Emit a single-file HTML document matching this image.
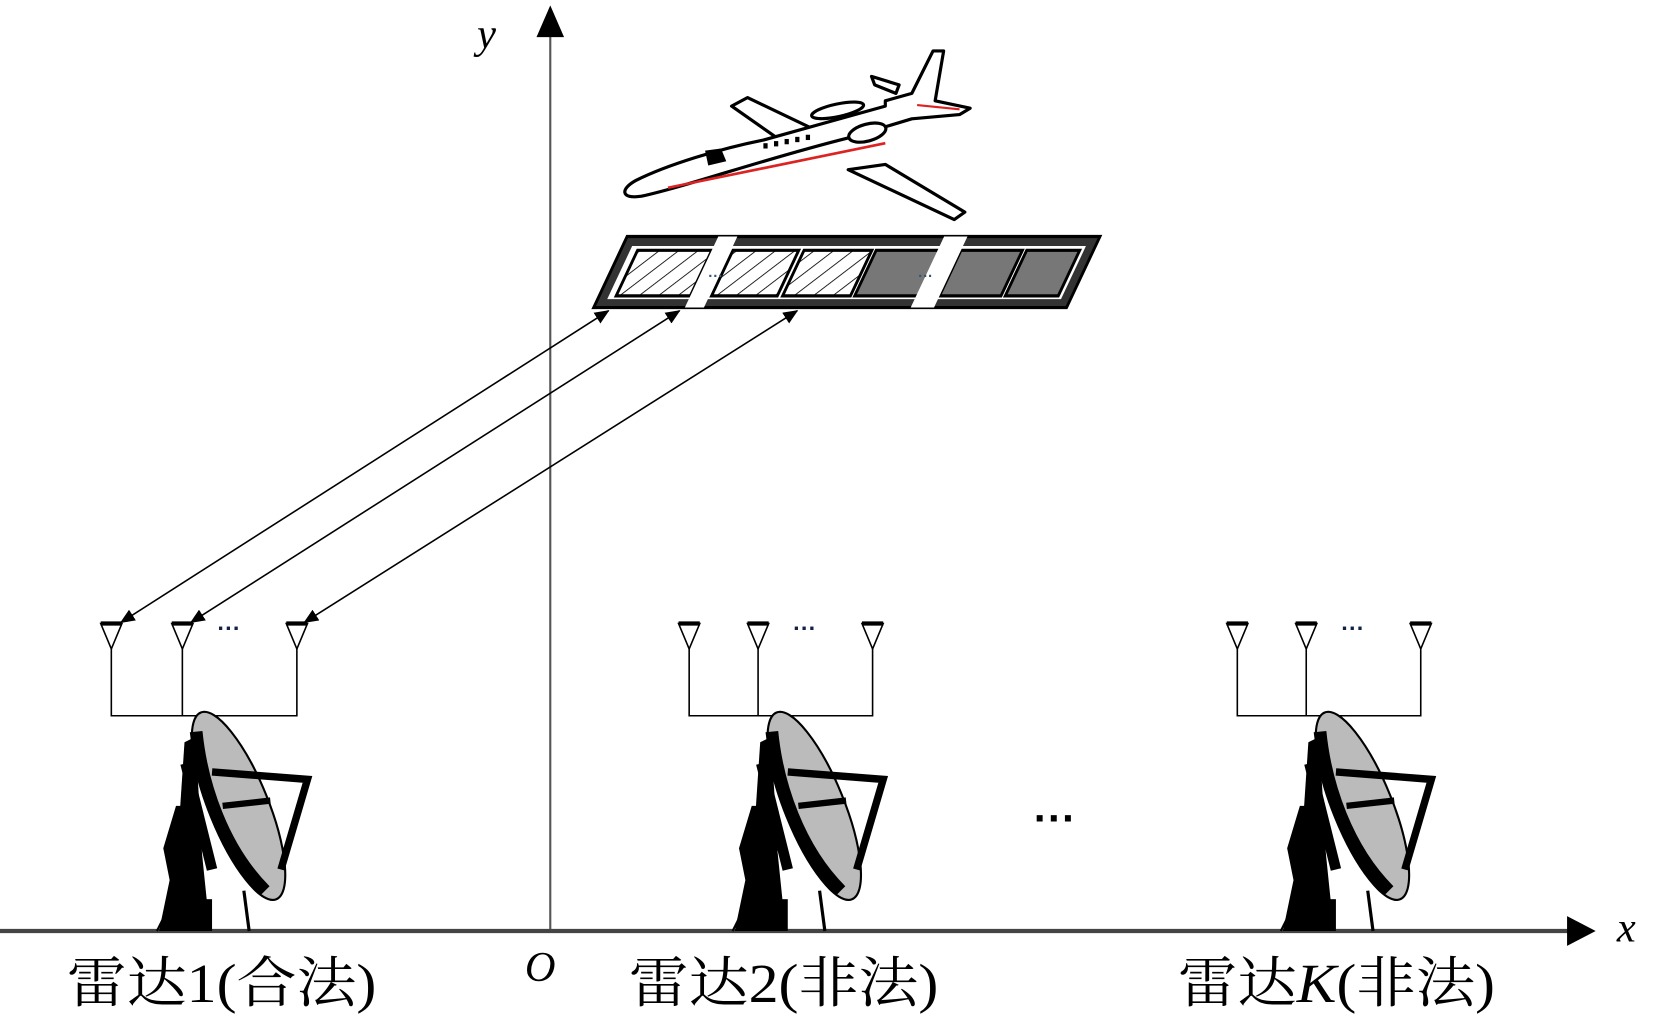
<!DOCTYPE html>
<html><head><meta charset="utf-8"><style>
html,body{margin:0;padding:0;background:#fff;}
svg{display:block;}
</style></head><body>
<svg width="1654" height="1018" viewBox="0 0 1560 960" xmlns="http://www.w3.org/2000/svg">
<defs>
<pattern id="hatch" width="14" height="14" patternUnits="userSpaceOnUse" patternTransform="rotate(40)">
<rect width="14" height="14" fill="#fff"/><line x1="0" y1="0" x2="0" y2="14" stroke="#000" stroke-width="2"/>
</pattern>
<marker id="ah" markerWidth="14" markerHeight="12" refX="13" refY="6" orient="auto-start-reverse" markerUnits="userSpaceOnUse">
<path d="M0,0 L14,6 L0,12 z" fill="#000"/></marker>
<g id="ant">
<path d="M-10,588 L10,588 L0,612 z" fill="#fff" stroke="#000" stroke-width="1.5"/>
<rect x="-10" y="586" width="20" height="4" fill="#000"/>
</g>
<g id="dish">
<polygon points="-8,878 -12,790 -6,700 4,695 10,790 12,878" fill="#000"/>
<polygon points="-30,878 -20,830 -26,800 -14,760 0,760 10,800 18,878" fill="#000"/>
<ellipse cx="45" cy="760" rx="28" ry="95" transform="rotate(-22 45 760)" fill="#bbb" stroke="#000" stroke-width="2"/>
<path d="M5,690 C10,740 30,800 70,840" stroke="#000" stroke-width="12" fill="none"/>
<path d="M20,728 L110,735 L85,820" stroke="#000" stroke-width="7" fill="none"/>
<path d="M30,760 L75,755" stroke="#000" stroke-width="6"/>
<path d="M-5,720 L20,820" stroke="#000" stroke-width="10"/>
<line x1="-12" y1="838" x2="-32" y2="878" stroke="#000" stroke-width="2"/>
<line x1="50" y1="840" x2="55" y2="878" stroke="#000" stroke-width="3"/>
<rect x="-22" y="848" width="42" height="30" fill="#000"/>
</g>
</defs>

<!-- axes -->
<line x1="519" y1="878" x2="519" y2="30" stroke="#555" stroke-width="2"/>
<polygon points="519,5 506,35 532,35" fill="#000"/>
<line x1="0" y1="878" x2="1480" y2="878" stroke="#444" stroke-width="4"/>
<polygon points="1505,878 1478,864 1478,892" fill="#000"/>
<text x="450" y="45" font-family="Liberation Serif, serif" font-style="italic" font-size="40">y</text>
<text x="1525" y="888" font-family="Liberation Serif, serif" font-style="italic" font-size="40">x</text>
<text x="495" y="925" font-family="Liberation Serif, serif" font-style="italic" font-size="40">O</text>

<!-- plane -->
<g stroke="#000" stroke-width="3" fill="#fff" stroke-linejoin="round">
<path d="M690,100 L705,92 L770,123 L740,135 z"/>
<path d="M800,160 L835,155 L910,200 L900,207 z"/>
<path d="M835,95 L860,88 L880,48 L890,48 L882,95 L915,102 L905,108 L860,112 L800,130 C720,150 650,175 605,185 C585,188 585,178 600,170 C630,155 680,140 720,132 L835,100 z"/>
<path d="M822,72 L848,80 L845,88 L825,80 z"/>
<ellipse cx="818" cy="125" rx="18" ry="8" transform="rotate(-15 818 125)"/>
<ellipse cx="790" cy="104" rx="25" ry="6" transform="rotate(-12 790 104)"/>
</g>
<line x1="630" y1="177" x2="835" y2="135" stroke="#d22" stroke-width="2.5"/>
<line x1="865" y1="99" x2="905" y2="103" stroke="#d22" stroke-width="2"/>
<path d="M665,142 L680,140 L685,152 L668,156 z" fill="#000"/>
<g fill="#000"><rect x="720" y="135" width="4" height="5"/><rect x="730" y="133" width="4" height="5"/><rect x="740" y="131" width="4" height="5"/><rect x="750" y="129" width="4" height="5"/><rect x="760" y="127" width="4" height="5"/></g>

<!-- strip -->
<g transform="translate(0,292) skewX(-25.2)">
<rect x="559" y="-69" width="446" height="67" fill="#333" stroke="#000" stroke-width="3"/>
<rect x="568" y="-60" width="428" height="50" fill="#fff"/>
<rect x="575" y="-56" width="70" height="43" fill="url(#hatch)" stroke="#000" stroke-width="3"/>
<rect x="665" y="-56" width="62" height="43" fill="url(#hatch)" stroke="#000" stroke-width="3"/>
<rect x="732" y="-56" width="64" height="43" fill="url(#hatch)" stroke="#000" stroke-width="3"/>
<rect x="800" y="-56" width="62" height="43" fill="#777" stroke="#000" stroke-width="3"/>
<rect x="880" y="-56" width="58" height="43" fill="#777" stroke="#000" stroke-width="3"/>
<rect x="942" y="-56" width="50" height="43" fill="#777" stroke="#000" stroke-width="3"/>
<rect x="858" y="-69" width="22" height="67" fill="#fff"/>
<rect x="645" y="-69" width="18" height="67" fill="#fff"/>
</g>
<text x="668" y="265" font-family="Liberation Sans, sans-serif" font-size="14" font-weight="bold" fill="#357">···</text>
<text x="866" y="265" font-family="Liberation Sans, sans-serif" font-size="14" font-weight="bold" fill="#357">···</text>

<!-- signal arrows -->
<g stroke="#000" stroke-width="1.5">
<line x1="114" y1="587" x2="574" y2="293" marker-start="url(#ah)" marker-end="url(#ah)"/>
<line x1="180" y1="587" x2="641" y2="293" marker-start="url(#ah)" marker-end="url(#ah)"/>
<line x1="287" y1="587" x2="752" y2="293" marker-start="url(#ah)" marker-end="url(#ah)"/>
</g>

<!-- antenna groups -->
<g stroke="#000" stroke-width="1.5" fill="none">
<path d="M105,600 V675 H280 V600 M172,600 V675"/>
<path d="M650,600 V675 H823 V600 M715,600 V675"/>
<path d="M1167,600 V675 H1340 V600 M1232,600 V675"/>
</g>
<use href="#ant" x="105"/><use href="#ant" x="172"/><use href="#ant" x="280"/>
<use href="#ant" x="650"/><use href="#ant" x="715"/><use href="#ant" x="823"/>
<use href="#ant" x="1167"/><use href="#ant" x="1232"/><use href="#ant" x="1340"/>
<g font-family="Liberation Sans, sans-serif" font-weight="bold" font-size="22" fill="#124">
<text x="205" y="600">···</text><text x="748" y="600">···</text><text x="1265" y="600">···</text>
</g>

<!-- dishes -->
<use href="#dish" x="180"/>
<use href="#dish" x="723"/>
<use href="#dish" x="1240"/>

<text x="975" y="785" font-family="Liberation Sans, sans-serif" font-weight="bold" font-size="40">···</text>

<!-- labels -->
<g font-family="Liberation Serif, 'Noto Serif CJK SC', serif" font-size="52">
<text x="63" y="945" textLength="292" lengthAdjust="spacingAndGlyphs">雷达1(合法)</text>
<text x="593" y="945" textLength="292" lengthAdjust="spacingAndGlyphs">雷达2(非法)</text>
<text x="1111" y="945" textLength="299" lengthAdjust="spacingAndGlyphs">雷达<tspan font-style="italic">K</tspan>(非法)</text>
</g>
</svg>
</body></html>
